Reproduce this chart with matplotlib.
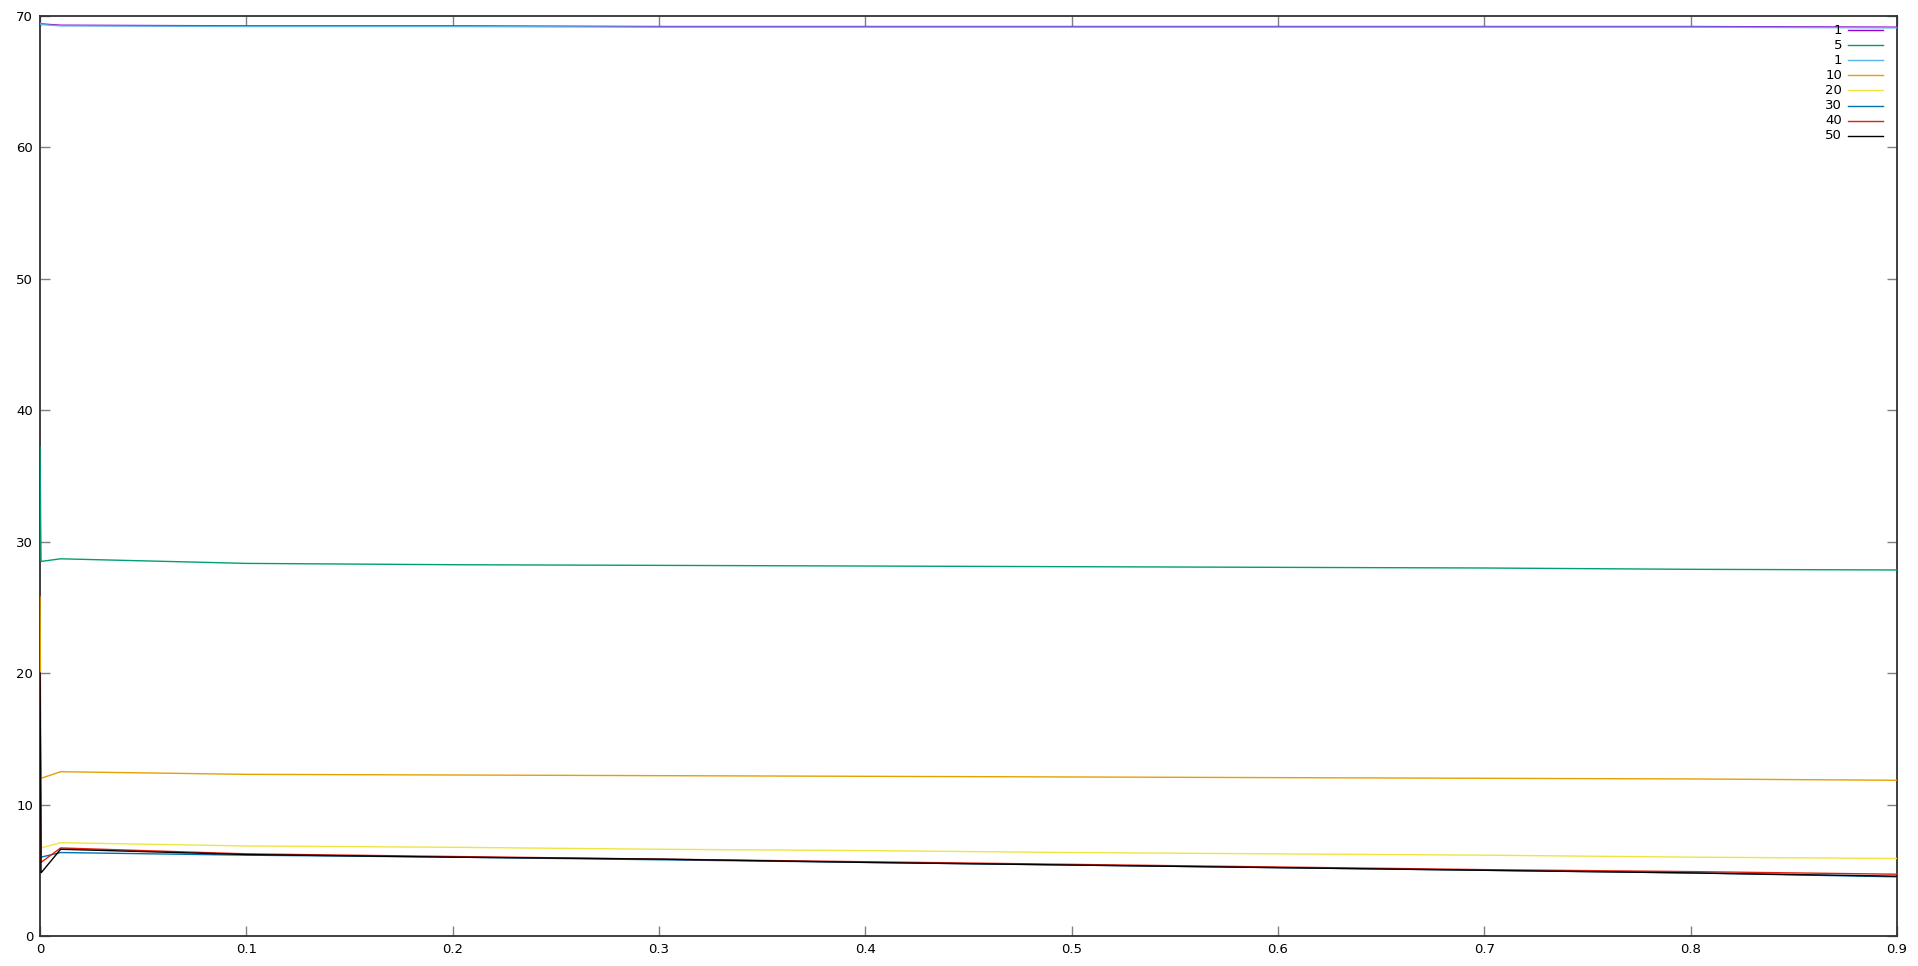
import matplotlib
matplotlib.use("Agg")
import matplotlib.pyplot as plt

# datos
x = [0, 0.0005, 0.01, 0.1, 0.2, 0.3, 0.4, 0.5, 0.6, 0.7, 0.8, 0.9]

labels = ["1", "5", "1", "10", "20", "30", "40", "50"]
colors = ["#9400d3", "#009e73", "#56b4e9", "#e69f00",
          "#f0e442", "#0072b2", "#e51e10", "#000000"]

s1 = [69.5, 69.4, 69.3, 69.25, 69.25, 69.2, 69.2, 69.2, 69.2, 69.2, 69.2, 69.15]
s5 = [37.2, 28.5, 28.7, 28.35, 28.25, 28.2, 28.15, 28.1, 28.05, 28.0, 27.9, 27.85]
s1b = [69.45, 69.35, 69.25, 69.2, 69.2, 69.15, 69.15, 69.15, 69.15, 69.15, 69.15, 69.1]
s10 = [25.8, 12.0, 12.5, 12.3, 12.25, 12.2, 12.15, 12.1, 12.05, 12.0, 11.95, 11.85]
s20 = [20.0, 6.7, 7.1, 6.85, 6.75, 6.6, 6.5, 6.35, 6.25, 6.15, 6.0, 5.9]
s30 = [20.0, 6.0, 6.35, 6.15, 6.0, 5.8, 5.6, 5.4, 5.2, 5.0, 4.8, 4.5]
s40 = [20.0, 5.6, 6.7, 6.25, 6.05, 5.85, 5.65, 5.45, 5.25, 5.05, 4.9, 4.7]
s50 = [20.0, 4.8, 6.6, 6.2, 6.0, 5.85, 5.6, 5.4, 5.2, 5.0, 4.8, 4.55]

series = [s1, s5, s1b, s10, s20, s30, s40, s50]

xticks = [0, 0.1, 0.2, 0.3, 0.4, 0.5, 0.6, 0.7, 0.8, 0.9]
yticks = [0, 10, 20, 30, 40, 50, 60, 70]

fig = plt.figure(figsize=(19.18, 9.66), dpi=100)
ax = fig.add_axes([40 / 1918, 30 / 966, 1857 / 1918, 920 / 966])

# como en gnuplot, las curvas se dibujan encima del borde
for ys, c in zip(series, colors):
    ax.plot(x, ys, color=c, lw=1.0, solid_joinstyle="miter", zorder=3)

ax.set_xlim(0, 0.9)
ax.set_ylim(0, 70)
ax.set_xticks(xticks)
ax.set_xticklabels(["%g" % v for v in xticks])
ax.set_yticks(yticks)
ax.tick_params(direction="in", length=7, width=1, color="#808080",
               top=True, right=True, labelsize=9.5, pad=5)
for sp in ax.spines.values():
    sp.set_color("#303030")
    sp.set_linewidth(1.3)

# leyenda al estilo gnuplot (texto alineado a la derecha)
row_h = 15.1 / 920
y0 = (936 - 30) / 920
for i, (lab, c) in enumerate(zip(labels, colors)):
    yy = y0 - i * row_h
    ax.plot([0.9736, 0.9925], [yy, yy], color=c, lw=1.0,
            transform=ax.transAxes, clip_on=False)
    ax.text(0.9704, yy, lab, transform=ax.transAxes, ha="right",
            va="center", fontsize=9.5)

fig.savefig("out.png", dpi=100)
plt.close(fig)
